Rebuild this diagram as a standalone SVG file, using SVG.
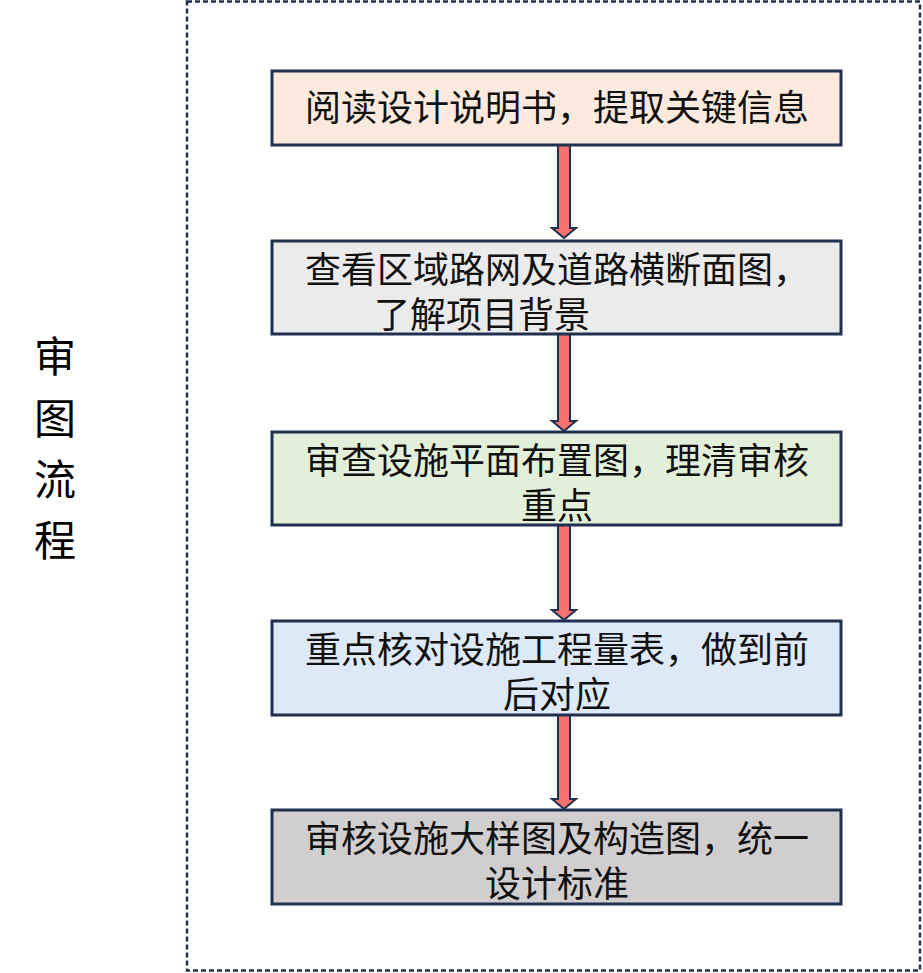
<svg xmlns="http://www.w3.org/2000/svg" width="923" height="973" viewBox="0 0 923 973">
<style>
.b{stroke:#1f3050;stroke-width:3}
.t{font-family:"Liberation Serif","Noto Sans CJK SC",serif;font-size:36px;fill:#111;text-anchor:middle}
.a{fill:#f87171;stroke:#1f3050;stroke-width:2}
</style>
<rect x="187" y="1.5" width="733" height="969" fill="none" stroke="#1f3050" stroke-width="2.5" stroke-dasharray="5,3"/>
<text x="55" y="372" font-family="Noto Sans CJK SC,sans-serif" font-size="42" text-anchor="middle">审</text>
<text x="55" y="434" font-family="Noto Sans CJK SC,sans-serif" font-size="42" text-anchor="middle">图</text>
<text x="55" y="495" font-family="Noto Sans CJK SC,sans-serif" font-size="42" text-anchor="middle">流</text>
<text x="55" y="556" font-family="Noto Sans CJK SC,sans-serif" font-size="42" text-anchor="middle">程</text>
<g id="connectors">
<path class="a" d="M558,145 H570 V228 H576 L564,238 L552,228 H558 Z"/>
<path class="a" d="M558,334 H570 V421 H576 L564,431 L552,421 H558 Z"/>
<path class="a" d="M558,525 H570 V610 H576 L564,620 L552,610 H558 Z"/>
<path class="a" d="M558,715 H570 V799 H576 L564,809 L552,799 H558 Z"/>
</g>
<g id="n1"><rect class="b" x="272" y="71" width="569" height="74" fill="#fbeadd"/><text class="t" x="557" y="121">阅读设计说明书，提取关键信息</text></g>
<g id="n2"><rect class="b" x="272" y="241" width="569" height="93" fill="#ebebeb"/><text class="t" x="557" y="283">查看区域路网及道路横断面图，</text><text class="t" x="482" y="328">了解项目背景</text></g>
<g id="n3"><rect class="b" x="272" y="432" width="569" height="93" fill="#e2efd9"/><text class="t" x="557" y="474">审查设施平面布置图，理清审核</text><text class="t" x="557" y="519">重点</text></g>
<g id="n4"><rect class="b" x="272" y="621" width="569" height="94" fill="#dde9f6"/><text class="t" x="557" y="663">重点核对设施工程量表，做到前</text><text class="t" x="557" y="708">后对应</text></g>
<g id="n5"><rect class="b" x="272" y="810" width="569" height="94" fill="#d0cece"/><text class="t" x="557" y="852">审核设施大样图及构造图，统一</text><text class="t" x="557" y="897">设计标准</text></g>
</svg>
